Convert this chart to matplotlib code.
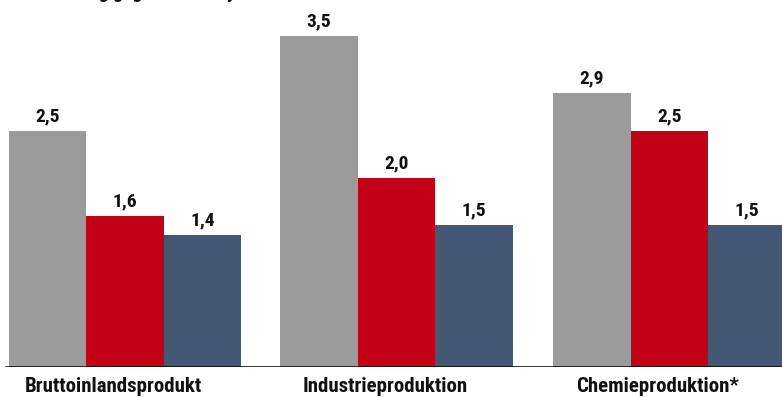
import numpy as np
import matplotlib
matplotlib.use("Agg")
import matplotlib.pyplot as plt
from matplotlib import font_manager

categories = ["Bruttoinlandsprodukt", "Industrieproduktion", "Chemieproduktion*"]
series_a = [2.5, 3.5, 2.9]   # grau
series_b = [1.6, 2.0, 2.5]   # rot
series_c = [1.4, 1.5, 1.5]   # blau
colors = ["#9b9b9b", "#c20016", "#445775"]
title = "Veränderung gegenüber Vorjahr in Prozent"

# schmale Schrift, falls vorhanden
names = {f.name for f in font_manager.fontManager.ttflist}
fam = next((n for n in ["Roboto Condensed", "Archivo Narrow", "Liberation Sans Narrow",
                        "Liberation Sans"] if n in names), "DejaVu Sans")
plt.rcParams["font.family"] = [fam, "DejaVu Sans"]

W, H = 782, 397
fig = plt.figure(figsize=(W / 100, H / 100), dpi=100)
ax = fig.add_axes([0, 30 / H, 1, 1 - 30 / H])

bw = 1.0
groups = np.array([0.0, 3.5, 7.02])
for i, (vals, c) in enumerate(zip([series_a, series_b, series_c], colors)):
    xs = groups + i * bw
    ax.bar(xs, vals, width=bw, color=c, linewidth=0)
    for x, v in zip(xs, vals):
        ax.text(x, v + 0.1, f"{v:.1f}".replace(".", ","), ha="center", va="baseline",
                fontsize=14, fontweight="bold", color="#111111")

ax.set_xlim(-0.616, W / 77.5 - 0.616)
ax.set_ylim(0, 367 / 94.5)
ax.axhline(0, xmin=6 / W, color="black", lw=1.1)
for s in ax.spines.values():
    s.set_visible(False)
ax.set_yticks([])
ax.set_xticks(groups + bw * 0.85)
ax.set_xticklabels(categories, fontsize=15, fontweight="bold", color="#111111")
ax.tick_params(axis="x", length=0, pad=7)

# Überschrift, am oberen Rand angeschnitten
fig.text(8 / W, 1 + 1.5 / H, title, ha="left", va="baseline",
         fontsize=14, fontweight="bold", color="#111111")

fig.savefig("out.png", dpi=100)
